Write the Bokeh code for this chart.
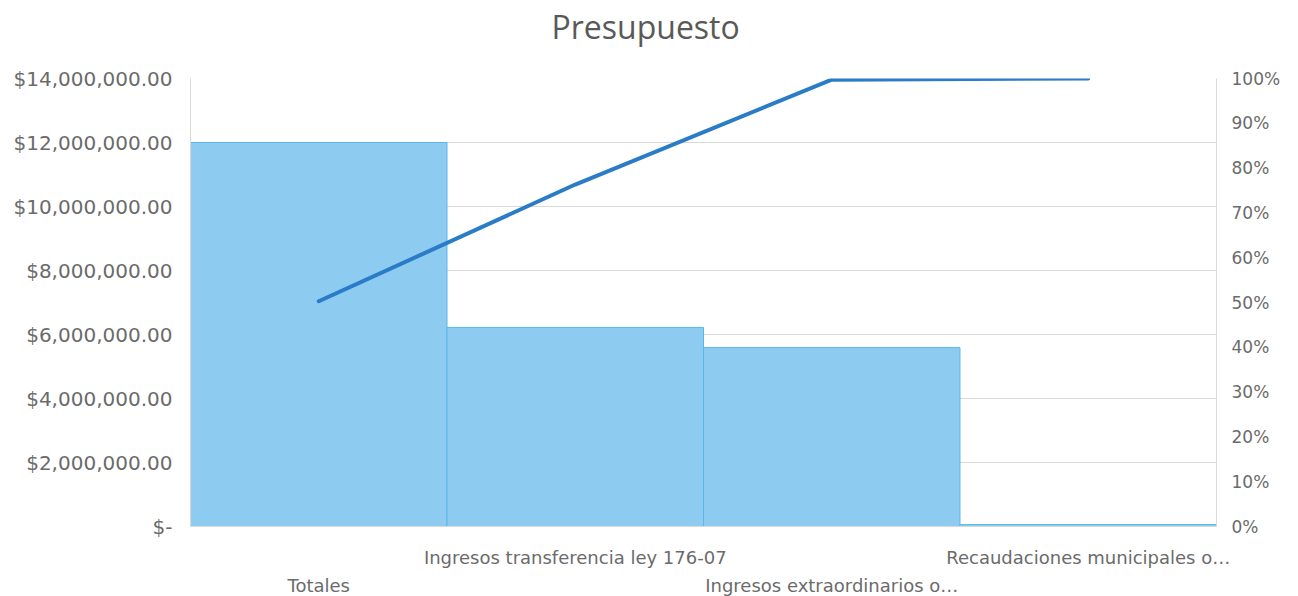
from bokeh.plotting import figure
from bokeh.models import (ColumnDataSource, LinearAxis, Range1d,
                          FixedTicker, NumeralTickFormatter, Title)
from bokeh.embed import file_html
from bokeh.resources import INLINE

categories = ["Totales", "Ingresos transferencia ley 176-07",
              "Ingresos extraordinarios o…", "Recaudaciones municipales o…"]
values = [12000000, 6220000, 5590000, 60000]
upper_row = ["Ingresos transferencia ley 176-07", "Recaudaciones municipales o…"]

positions = list(range(len(categories)))
total = sum(values)
cum = []
run = 0
for v in values:
    run += v
    cum.append(run / total)

src = ColumnDataSource(dict(x=positions, val=values, cum=cum))

p = figure(x_range=Range1d(-0.5, len(categories) - 0.5), y_range=Range1d(0, 14000000),
           frame_width=1026, frame_height=448,
           min_border_left=190, min_border_right=80, min_border_top=78, min_border_bottom=60,
           output_backend="svg", toolbar_location=None, tools="")
p.title = None
# spacer between frame and title
p.add_layout(Title(text=" ", text_font_size="20px", standoff=7), "above")
p.add_layout(Title(text="Presupuesto", align="left", offset=361, text_font="Open Sans",
                   text_font_size="32px", text_color="#595959", text_font_style="normal",
                   standoff=0), "above")
p.outline_line_color = None
p.background_fill_color = "white"
p.border_fill_color = "white"

p.extra_y_ranges = {"pct": Range1d(0, 1)}

p.vbar(x="x", top="val", width=1.0, source=src, fill_color="#8ecbf0",
       line_color="#5ab8e8", line_width=1)
p.line(x="x", y="cum", source=src, y_range_name="pct", line_color="#2a7cc6",
       line_width=4, line_cap="round", line_join="round")

gray = "#d9d9d9"
lab = "#6b6b6b"
font = "DejaVu Sans"

# left axis
ya = p.yaxis[0]
ya.ticker = FixedTicker(ticks=list(range(0, 14000001, 2000000)))
ya.formatter = NumeralTickFormatter(format="$0,0.00")
ya.major_label_overrides = {0: "$-"}
ya.axis_line_color = gray
ya.major_tick_line_color = None
ya.minor_tick_line_color = None
ya.major_label_text_color = lab
ya.major_label_text_font = font
ya.major_label_text_font_size = "20px"
ya.major_label_standoff = 12

# right axis
ra = LinearAxis(y_range_name="pct", ticker=FixedTicker(ticks=[i / 10 for i in range(11)]),
                formatter=NumeralTickFormatter(format="0%"))
ra.axis_line_color = gray
ra.major_tick_line_color = None
ra.minor_tick_line_color = None
ra.major_label_text_color = lab
ra.major_label_text_font = font
ra.major_label_text_font_size = "17px"
ra.major_label_standoff = 9
p.add_layout(ra, "right")

# bottom axes (staggered labels)
def style_x(ax, standoff):
    ax.ticker = FixedTicker(ticks=positions)
    ax.major_tick_line_color = None
    ax.minor_tick_line_color = None
    ax.major_label_text_color = lab
    ax.major_label_text_font = font
    ax.major_label_text_font_size = "18px"
    ax.major_label_standoff = standoff

xa = p.xaxis[0]
style_x(xa, 14)
xa.axis_line_color = gray
xa.major_label_overrides = {i: (c if c in upper_row else "") for i, c in zip(positions, categories)}

xb = LinearAxis()
style_x(xb, -2)
xb.axis_line_color = None
xb.major_label_overrides = {i: ("" if c in upper_row else c) for i, c in zip(positions, categories)}
p.add_layout(xb, "below")

p.xgrid.grid_line_color = None
p.ygrid.grid_line_color = gray
p.ygrid.ticker = ya.ticker

open("out.html", "w").write(file_html(p, INLINE))
